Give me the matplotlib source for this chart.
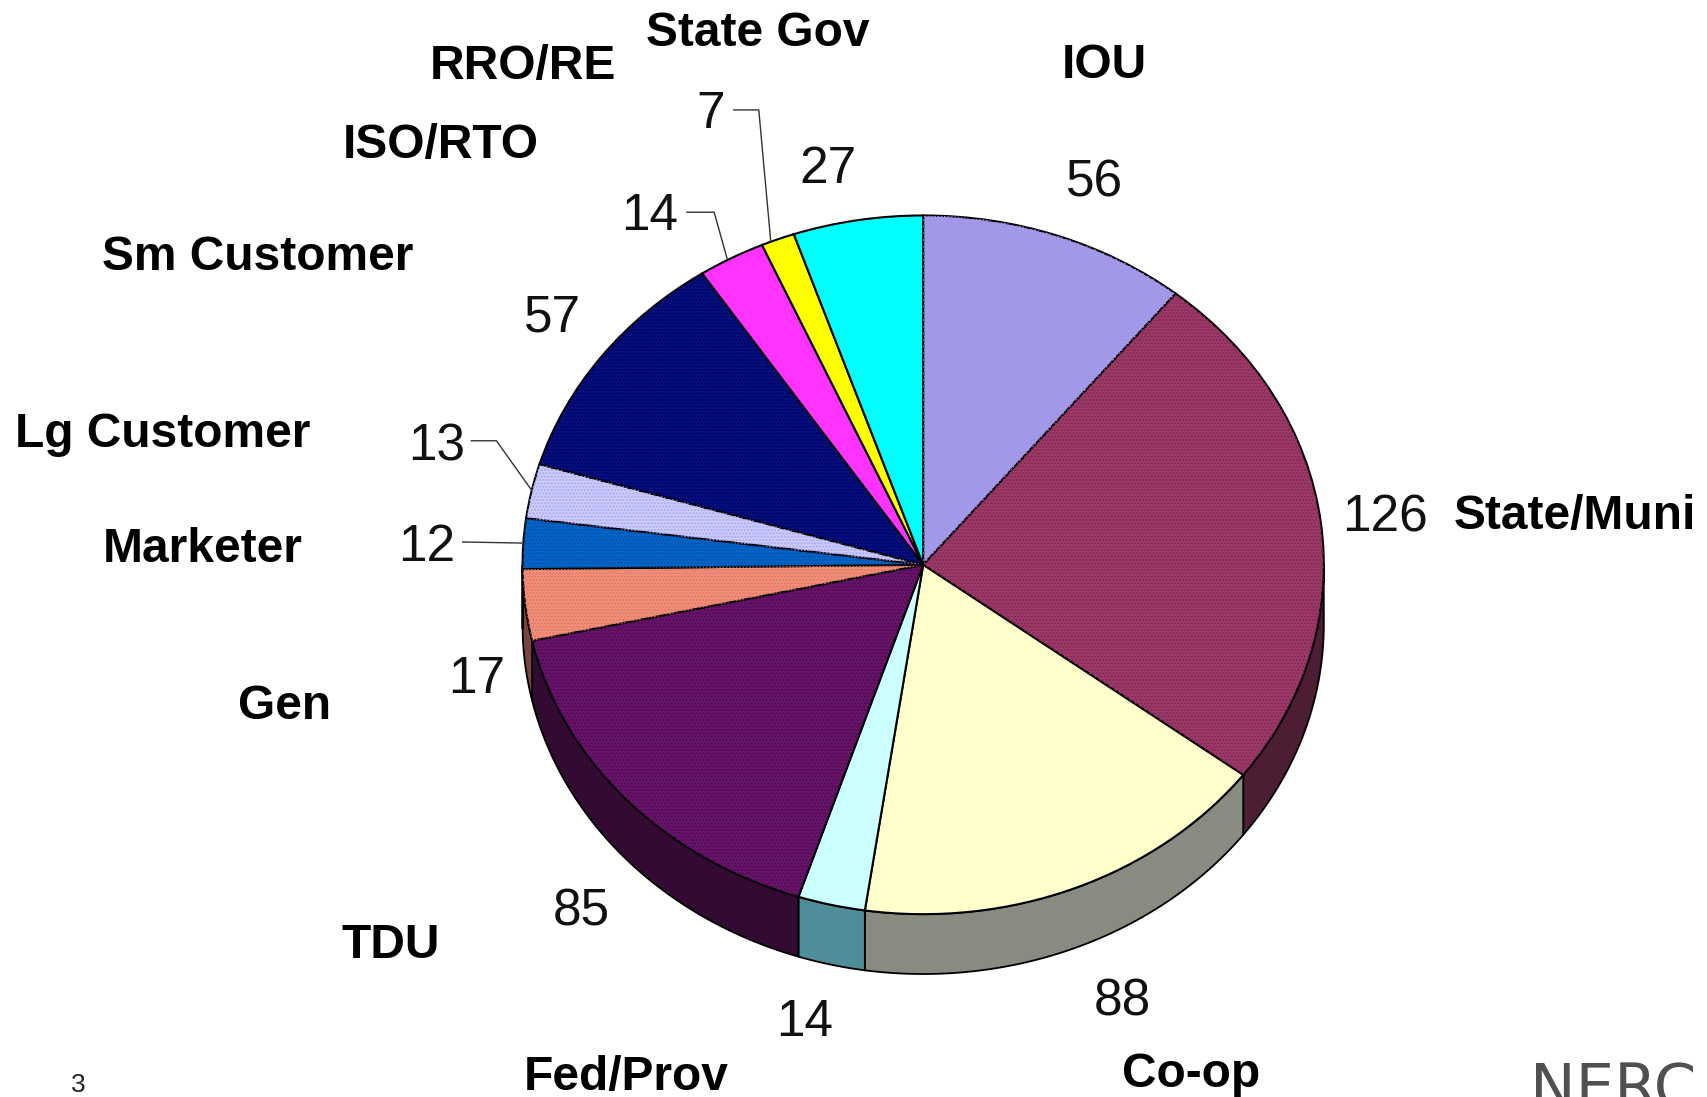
import numpy as np
import matplotlib
matplotlib.use('Agg')
from matplotlib import pyplot as plt

plt.rcParams['font.family'] = ['Liberation Sans', 'DejaVu Sans']

# slices, clockwise from 12 o'clock
names = ['IOU', 'State/Muni', 'Co-op', 'Fed/Prov', 'TDU', 'Gen', 'Marketer',
         'Lg Customer', 'Sm Customer', 'ISO/RTO', 'RRO/RE', 'State Gov']
values = [56, 126, 88, 14, 85, 17, 12, 13, 57, 14, 7, 27]
colors = ['#9c9cf0', '#a03a64', '#ffffcc', '#ccffff', '#6a1468', '#f88c7c',
          '#0066cc', '#ccccff', '#04107e', '#ff33ff', '#ffff00', '#00ffff']
side_colors = ['#514f74', '#4d1d33', '#888b80', '#4f8d98', '#320a32', '#7a4540',
               '#003366', '#666680', '#050a40', '#801a80', '#808000', '#008080']
# speckle of the dithered fills, None = plain colour
dot_colors = ['#b090d8', '#7a2a60', None, None, '#4a0a58', '#d08060',
              '#0a50a0', '#a8a8f0', '#000060', None, None, None]

# label spots, read in the 1568x1008 view of the picture
name_xy = [(1014, 60), (1447, 475), (1094, 987), (575, 990), (359, 869), (261, 649),
           (186, 505), (149, 399), (237, 237), (405, 134), (480, 61), (696, 31)]
value_xy = [(1005, 168), (1272, 476), (1031, 921), (739, 940), (534, 838), (438, 624),
            (392, 503), (401, 411), (508, 292), (597, 199), (653, 105), (761, 156)]
leaders = [[(631, 195), (656, 195), (668, 238)],
           [(674, 101), (697, 101), (708, 222)],
           [(433, 405), (456, 405), (488, 450)],
           [(425, 498), (479, 499)]]

W, H = 1568, 1008
cx, cy, rx, ry, depth = 848, 519, 368, 321, 55

fig = plt.figure(figsize=(17.07, 10.97), dpi=100)

# pie axes: data range -1..1 stretched so the circle gets squashed
ax = fig.add_axes([(cx - rx) / W, 1 - (cy + ry) / H, 2 * rx / W, 2 * ry / H])
wedges, _ = ax.pie(values, colors=colors, startangle=90, counterclock=False, radius=1,
                   wedgeprops={'edgecolor': 'black', 'linewidth': 1.5, 'zorder': 3})
dots, _ = ax.pie(values, colors=['none'] * len(values), startangle=90, counterclock=False, radius=1,
                 wedgeprops={'linewidth': 0, 'zorder': 2.5})
for wedge, dc in zip(dots, dot_colors):
    if dc is None:
        wedge.set_visible(False)
    else:
        wedge.set_hatch('.....')
        wedge.set_edgecolor(dc)
        wedge.set_zorder(4)
ax.set_aspect('auto')
ax.set_xlim(-1, 1)
ax.set_ylim(-1, 1)
ax.axis('off')

# rim of the 3d pie, front half only
d = depth / ry
edges = np.cumsum([0] + values) / sum(values) * 360
for i in range(len(values)):
    a0, a1 = max(edges[i], 90), min(edges[i + 1], 270)
    if a1 <= a0:
        continue
    t = np.radians(np.linspace(a0, a1, 60))
    x = np.sin(t)
    y = np.cos(t)
    ax.fill(np.r_[x, x[::-1]], np.r_[y, y[::-1] - d], facecolor=side_colors[i],
            edgecolor='black', linewidth=1.3, zorder=1, clip_on=False)

# overlay in picture coordinates for the text
ov = fig.add_axes([0, 0, 1, 1])
ov.set_xlim(0, W)
ov.set_ylim(H, 0)
ov.axis('off')
ov.patch.set_alpha(0)

for name, (x, y) in zip(names, name_xy):
    ov.text(x, y, name, fontsize=34.5, fontweight='bold', ha='center', va='center', color='black')
for v, (x, y) in zip(values, value_xy):
    ov.text(x, y, str(v), fontsize=37, ha='center', va='center', color='#111111')
for line in leaders:
    ov.plot([p[0] for p in line], [p[1] for p in line], color='#333333', lw=1)

ov.text(72, 997, '3', fontsize=19, ha='center', va='center', color='#222222')
ov.text(1405.5, 1017, 'NERC', fontsize=44, ha='left', va='baseline', color='#505050',
        family='DejaVu Sans', clip_on=False)

fig.savefig('out.png', dpi=100)
